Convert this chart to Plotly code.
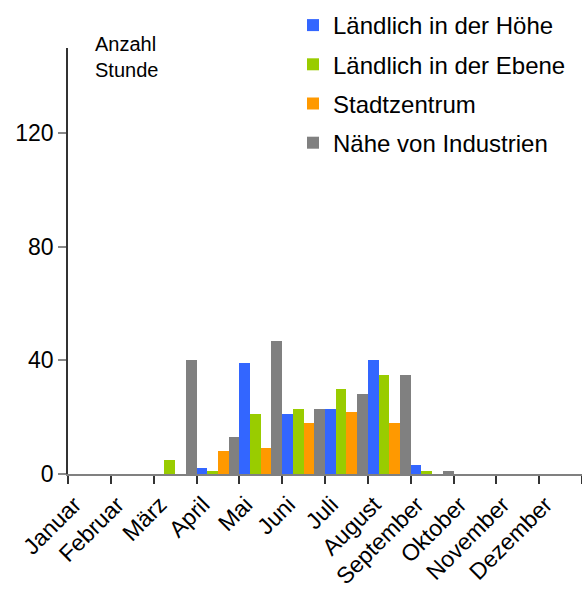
import plotly.graph_objects as go

# Monthly hours per site type
months = ["Januar", "Februar", "März", "April", "Mai", "Juni", "Juli",
          "August", "September", "Oktober", "November", "Dezember"]
laendlich_hoehe = [0, 0, 0, 2, 39, 21, 23, 40, 3, 0, 0, 0]
laendlich_ebene = [0, 0, 5, 1, 21, 23, 30, 35, 1, 0, 0, 0]
stadtzentrum = [0, 0, 0, 8, 9, 18, 22, 18, 0, 0, 0, 0]
industrie = [0, 0, 40, 13, 47, 23, 28, 35, 1, 0, 0, 0]

series_names = ["Ländlich in der Höhe", "Ländlich in der Ebene",
                "Stadtzentrum", "Nähe von Industrien"]
series_values = [laendlich_hoehe, laendlich_ebene, stadtzentrum, industrie]
series_colors = ["#3366FF", "#99CC00", "#FF9900", "#808080"]

y_ticks = [0, 40, 80, 120]

FONT = "Liberation Sans, Arial, sans-serif"

fig = go.Figure()
for name, vals, color in zip(series_names, series_values, series_colors):
    fig.add_trace(go.Bar(
        x=months, y=vals, name=name, legendgroup=name,
        marker=dict(color=color, line=dict(width=0)),
    ))

W, H = 582, 592
L, R, B = 68, 0, 118
PLOT_TOP = 48  # pixel row where the value axis ends
paper_w = W - L - R
paper_h = H - B

fig.update_layout(
    width=W, height=H,
    margin=dict(l=L, r=R, t=0, b=B, pad=0, autoexpand=False),
    paper_bgcolor="white", plot_bgcolor="white",
    barmode="group", bargap=0, bargroupgap=0,
    font=dict(family=FONT, color="black", size=23),
    showlegend=True,
    legend=dict(
        x=(293 - L) / paper_w, y=1 - 3 / paper_h,
        xanchor="left", yanchor="top",
        font=dict(family=FONT, size=24, color="black"),
        bgcolor="rgba(0,0,0,0)", borderwidth=0,
        tracegroupgap=5, traceorder="grouped",
    ),
    xaxis=dict(
        type="category", range=[-0.5, 11.5],
        tickmode="linear", tick0=0, dtick=1,
        tickson="boundaries", ticks="outside", ticklen=8, tickwidth=1.5,
        tickcolor="#333333", tickangle=-45,
        ticklabelshift=-15, ticklabelstandoff=6,
        showline=True, linecolor="#808080", linewidth=2,
        showgrid=False, zeroline=False,
        tickfont=dict(family=FONT, size=23, color="black"),
    ),
    yaxis=dict(
        domain=[0, (H - B - PLOT_TOP) / paper_h],
        range=[0, 150], tickvals=y_ticks,
        ticks="outside", ticklen=8, tickwidth=1.5, tickcolor="#888888",
        showline=True, linecolor="#333333", linewidth=1.5,
        showgrid=False, zeroline=False,
        tickfont=dict(family=FONT, size=23, color="black"),
    ),
    annotations=[dict(
        text="Anzahl<br>Stunde", xref="paper", yref="paper",
        x=(93 - L) / paper_w, y=1 - 31 / paper_h,
        xanchor="left", yanchor="top", align="left", showarrow=False,
        font=dict(family=FONT, size=20, color="black"),
    )],
)

fig.write_html("out.html")
